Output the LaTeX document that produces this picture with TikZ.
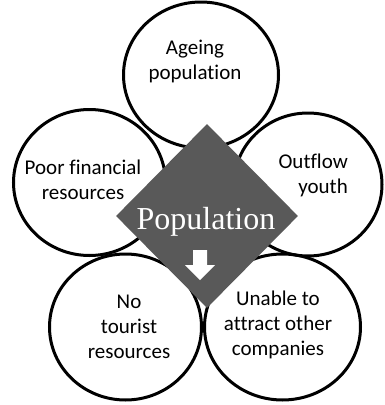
\documentclass[tikz,border=0pt]{standalone}
\usepackage{fontspec}
\setmainfont{Liberation Serif}
\newfontfamily\calfont[Ligatures=CommonOff]{Carlito}
\usepackage{xcolor}
\usepackage{tikz}
\usetikzlibrary{shapes, arrows.meta, positioning, calc}
\definecolor{diagray}{RGB}{89,89,89}
\tikzset{
	cause/.style={ellipse, draw=black, line width=3pt, minimum width=152pt, minimum height=146pt, inner sep=0pt},
	cause_text/.style={font=\calfont\fontsize{21}{25}\selectfont, align=center, inner sep=0pt},
	core/.style={diamond, fill=diagray, minimum width=182pt, minimum height=184pt, inner sep=0pt},
	core_text/.style={font=\fontsize{32}{36}\selectfont, text=white, inner sep=0pt, anchor=base}
}

\begin{document}
\begin{tikzpicture}[x=1pt, y=-1pt]
	\useasboundingbox (0,0) rectangle (385,405);
	\node[cause, minimum width=155pt] (ageing) at (201,75) {};
	\node[cause] (finance) at (89.5,182.5) {};
	\node[cause, minimum width=148pt, minimum height=143pt] (outflow) at (308,184.5) {};
	\node[cause] (tourist) at (125.5,327) {};
	\node[cause, minimum width=156pt] (companies) at (282.5,327) {};
	
	\node[cause_text] (ageing_t) at (195,61) {Ageing\\population};
	\node[cause_text] (finance_t) at (83,180) {Poor financial\\resources};
	\node[cause_text, align=right, anchor=east] (outflow_t) at (348,175) {Outflow\\youth};
	\node[cause_text] (tourist_t) at (129,327) {No\\tourist\\resources};
	\node[cause_text] (companies_t) at (278,325) {Unable to\\attract other\\companies};
	
	\node[core] (pop) at (207,216) {};
	\node[core_text] (pop_t) at (206,229) {Population};
	\coordinate (tip) at (200,280);
	\fill[white] (tip) -- ++(-15,-15) -- ++(8,0) -- ++(0,-15) -- ++(14,0) -- ++(0,15) -- ++(8,0) -- cycle;
\end{tikzpicture}
\end{document}
